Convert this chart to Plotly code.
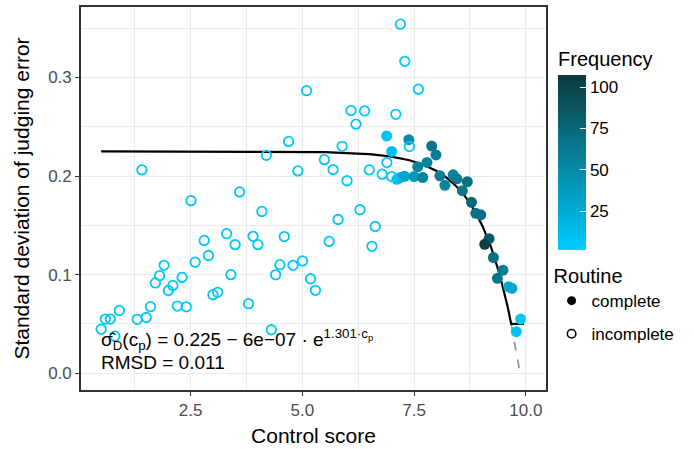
import numpy as np
import plotly.graph_objects as go

# ---------------- data ----------------
incomplete_x = [0.50, 0.595, 0.706, 0.806, 0.906, 1.307, 1.508, 1.604, 1.713, 1.808,
                1.909, 2.004, 2.105, 2.205, 2.310, 2.403, 2.510, 2.604, 2.806, 2.900,
                3.000, 3.107, 3.307, 3.401, 3.497, 3.597, 3.797, 3.898, 4.007, 4.096,
                4.307, 4.403, 4.499, 4.597, 4.693, 4.793, 4.900, 5.004, 5.094, 5.183,
                5.294, 5.494, 5.599, 5.688, 5.800, 5.889, 6.000, 6.089, 6.200, 6.290,
                6.392, 6.497, 6.557, 6.630, 6.786, 6.891, 6.998, 7.091, 7.194, 7.292,
                7.394, 7.595, 1.412, 4.196]
incomplete_y = [0.0446, 0.0549, 0.0549, 0.0376, 0.0637, 0.0547, 0.0565, 0.0675, 0.0916, 0.0990,
                0.1094, 0.0839, 0.0891, 0.0681, 0.0972, 0.0673, 0.1750, 0.1126, 0.1347, 0.1194,
                0.0796, 0.0821, 0.1415, 0.1000, 0.1304, 0.1839, 0.0705, 0.1388, 0.1304, 0.1641,
                0.0441, 0.0998, 0.1101, 0.1386, 0.2351, 0.1094, 0.2052, 0.1139, 0.2865, 0.0958,
                0.0841, 0.2166, 0.1337, 0.2065, 0.1559, 0.2301, 0.1952, 0.2664, 0.2526, 0.1658,
                0.2660, 0.2062, 0.1287, 0.1488, 0.2019, 0.2136, 0.1994, 0.2626, 0.3540, 0.3163,
                0.2299, 0.2881, 0.2062, 0.2210]

complete_x = [6.886, 7.381, 6.998, 7.893, 7.989, 7.788, 7.581, 7.114, 7.187, 7.287,
              7.499, 7.693, 8.078, 8.189, 8.374, 8.457, 8.690, 8.579, 8.784, 8.880,
              8.991, 9.176, 9.080, 9.274, 9.488, 9.363, 9.615, 9.688, 9.882, 9.786]
complete_y = [0.2407, 0.2368, 0.2249, 0.2304, 0.2214, 0.2138, 0.2093, 0.1967, 0.1985, 0.1997,
              0.1995, 0.1985, 0.2002, 0.1906, 0.2012, 0.1972, 0.1942, 0.1851, 0.1733, 0.1622,
              0.1606, 0.1365, 0.1307, 0.1173, 0.1045, 0.0962, 0.0877, 0.0861, 0.0549, 0.0421]
complete_freq = [8, 50, 10, 65, 60, 55, 55, 10, 20, 30,
                 40, 55, 60, 55, 55, 60, 70, 65, 75, 70,
                 70, 85, 105, 70, 60, 65, 25, 30, 5, 8]

freq_ticks = [25, 50, 75, 100]
x_ticks = [2.5, 5.0, 7.5, 10.0]
y_ticks = [0.0, 0.1, 0.2, 0.3]

# fitted model shown in the annotation
fit_a = 0.225
fit_b = 6e-07
fit_k = 1.301
fit_floor = 0.05
fit_start = 0.5
fit_end = 9.96

# ---------------- curve from the model ----------------
c_floor = np.log((fit_a - fit_floor) / fit_b) / fit_k
c_zero = np.log(fit_a / fit_b) / fit_k
c_solid = np.concatenate([np.linspace(fit_start, c_floor, 400), [fit_end]])
s_solid = np.maximum(fit_a - fit_b * np.exp(fit_k * c_solid), fit_floor)
c_dash = np.linspace(c_floor, c_zero, 40)
s_dash = fit_a - fit_b * np.exp(fit_k * c_dash)

LIGHT = "#00C8FA"
colorscale = [[0.0, "#00CCFF"], [0.22, "#00AAD6"], [0.5, "#07859F"], [0.75, "#0A5F6C"], [1.0, "#0C3A3D"]]
FONT = "Liberation Sans, Arial, sans-serif"

fig = go.Figure()

fig.add_trace(go.Scatter(x=c_dash, y=s_dash, mode="lines",
                         line=dict(color="#9A9A9A", width=1.8, dash="dash"),
                         showlegend=False, hoverinfo="skip"))
fig.add_trace(go.Scatter(x=c_solid, y=s_solid, mode="lines",
                         line=dict(color="black", width=2.2),
                         showlegend=False, hoverinfo="skip"))

fig.add_trace(go.Scatter(
    x=complete_x, y=complete_y, mode="markers", showlegend=False,
    marker=dict(size=11, color=complete_freq, colorscale=colorscale, cmin=2, cmax=107.5,
                line=dict(width=0),
                showscale=True,
                colorbar=dict(
                    title=dict(text="Frequency", side="top", font=dict(size=20, family=FONT, color="black")),
                    x=1.026, xanchor="left", y=0.894, yanchor="top",
                    lenmode="pixels", len=202, thicknessmode="pixels", thickness=28,
                    tickvals=freq_ticks, ticks="inside", ticklen=6, tickcolor="white",
                    tickfont=dict(size=17, family=FONT, color="black"),
                    outlinewidth=0, xpad=0, ypad=0))))

fig.add_trace(go.Scatter(
    x=incomplete_x, y=incomplete_y, mode="markers", showlegend=False,
    marker=dict(symbol="circle-open", size=9.5, color=LIGHT, line=dict(width=1.8, color=LIGHT))))

# legend entries for Routine
fig.add_trace(go.Scatter(x=[None], y=[None], mode="markers", name="complete", legendgroup="a",
                         marker=dict(symbol="circle", size=9, color="black")))
fig.add_trace(go.Scatter(x=[None], y=[None], mode="markers", name="incomplete", legendgroup="b",
                         marker=dict(symbol="circle-open", size=8.5, color="black", line=dict(width=1.6, color="black"))))

fig.add_annotation(x=0.46, y=0.034, xref="x", yref="y", xanchor="left", yanchor="middle",
                   text="σ̂<sub>D</sub>(c<sub>p</sub>) = 0.225 − 6e−07 · e<sup>1.301·c<sub>p</sub></sup>",
                   showarrow=False, font=dict(size=19, family=FONT, color="black"))
fig.add_annotation(x=0.46, y=0.011, xref="x", yref="y", xanchor="left", yanchor="middle",
                   text="RMSD = 0.011",
                   showarrow=False, font=dict(size=19, family=FONT, color="black"))

axis_common = dict(showline=True, mirror=True, linecolor="#333333", linewidth=1.6,
                   ticks="outside", ticklen=4, tickcolor="#333333", tickwidth=1,
                   tickfont=dict(size=17, family=FONT, color="#4D4D4D"),
                   showgrid=True, gridcolor="#EBEBEB", gridwidth=1.1, zeroline=False)

fig.update_xaxes(range=[0.05, 10.45], tickvals=x_ticks, ticktext=[f"{v:.1f}" for v in x_ticks],
                 minor=dict(dtick=1.25, tick0=0, showgrid=True, gridcolor="#EBEBEB", gridwidth=0.6, ticks=""),
                 title=dict(text="Control score", font=dict(size=21, family=FONT, color="black"), standoff=9),
                 **axis_common)
fig.update_yaxes(range=[-0.017, 0.3714], tickvals=y_ticks, ticktext=[f"{v:.1f}" for v in y_ticks],
                 minor=dict(dtick=0.05, tick0=0, showgrid=True, gridcolor="#EBEBEB", gridwidth=0.6, ticks=""),
                 title=dict(text="Standard deviation of judging error", font=dict(size=21, family=FONT, color="black"), standoff=13),
                 **axis_common)

fig.update_layout(
    width=694, height=449,
    margin=dict(l=81, r=148, t=5, b=58),
    plot_bgcolor="white", paper_bgcolor="white",
    font=dict(family=FONT, size=17, color="black"),
    legend=dict(x=1.012, xanchor="left", y=0.347, yanchor="top",
                title=dict(text="Routine", font=dict(size=20, family=FONT, color="black")),
                font=dict(size=17, family=FONT, color="black"),
                tracegroupgap=8, itemwidth=30, bgcolor="rgba(0,0,0,0)"),
)

fig.write_html("out.html", config={"displayModeBar": False},
               post_script="document.body.style.margin='0';")
